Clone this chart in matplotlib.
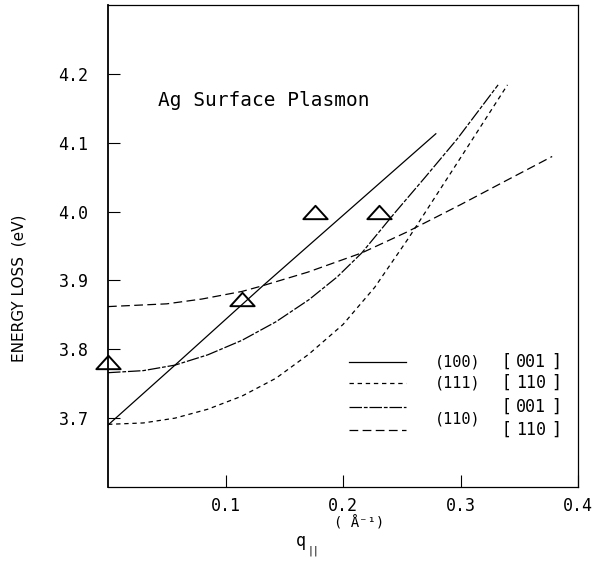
import matplotlib
matplotlib.use("Agg")
import matplotlib.pyplot as plt
from matplotlib.path import Path

# ---- data ----
q_100_001 = [0.0, 0.057, 0.131, 0.279]
e_100_001 = [3.690, 3.777, 3.891, 4.113]

q_111_110 = [0.0, 0.03, 0.057, 0.085, 0.114, 0.143, 0.171, 0.2, 0.227, 0.256, 0.30, 0.34]
e_111_110 = [3.691, 3.693, 3.700, 3.713, 3.732, 3.758, 3.793, 3.836, 3.890, 3.962, 4.078, 4.184]

q_110_001 = [0.0, 0.03, 0.057, 0.085, 0.114, 0.143, 0.171, 0.195, 0.216, 0.244, 0.27, 0.297, 0.332]
e_110_001 = [3.766, 3.769, 3.777, 3.792, 3.813, 3.840, 3.872, 3.905, 3.940, 3.998, 4.050, 4.105, 4.184]

q_110_110 = [0.0, 0.05, 0.08, 0.114, 0.131, 0.17, 0.216, 0.254, 0.30, 0.34, 0.378]
e_110_110 = [3.862, 3.866, 3.873, 3.884, 3.892, 3.912, 3.940, 3.970, 4.010, 4.046, 4.080]

q_exp = [0.0, 0.114, 0.176, 0.231]
e_exp = [3.782, 3.873, 4.000, 4.000]

xticks = [0.1, 0.2, 0.3, 0.4]
xtick_labels = ["0.1", "0.2", "0.3", "0.4"]
yticks = [3.7, 3.8, 3.9, 4.0, 4.1, 4.2]
ytick_labels = ["3.7", "3.8", "3.9", "4.0", "4.1", "4.2"]

legend_planes = ["(100)", "(111)", "(110)"]
legend_dirs = ["001", "110", "001", "110"]

# ---- figure ----
W, H = 597, 562
fig = plt.figure(figsize=(W / 100, H / 100), dpi=100)
ax = fig.add_axes([108 / W, 1 - 487 / H, (578 - 108) / W, (487 - 5) / H])
ax.set_xlim(0.0, 0.4)
ax.set_ylim(3.6, 4.3)

mono = "DejaVu Sans Mono"
lw = 0.9
st_solid = "-"
st_short = (0, (3.5, 3.0))
st_longshort = (0, (10, 1.5, 3, 1.5))
st_long = (0, (7, 3.5))

ax.plot(q_100_001, e_100_001, color="black", lw=lw, ls=st_solid)
ax.plot(q_111_110, e_111_110, color="black", lw=lw, ls=st_short)
ax.plot(q_110_001, e_110_001, color="black", lw=lw, ls=st_longshort)
ax.plot(q_110_110, e_110_110, color="black", lw=lw, ls=st_long)

tri = Path([(-1, -0.55), (1, -0.55), (0, 0.55), (-1, -0.55)],
           [Path.MOVETO, Path.LINETO, Path.LINETO, Path.CLOSEPOLY])
ax.plot(q_exp, e_exp, ls="none", marker=tri, markersize=17.5,
        markerfacecolor="none", markeredgecolor="black", markeredgewidth=1.4,
        clip_on=False, zorder=5)

ax.set_xticks(xticks)
ax.set_xticklabels(xtick_labels, family=mono, fontsize=12)
ax.set_yticks(yticks)
ax.set_yticklabels(ytick_labels, family=mono, fontsize=12)
ax.tick_params(direction="in", length=8.5, width=0.8, color="black")
ax.tick_params(axis="y", pad=14)
ax.tick_params(axis="x", pad=7)
for s in ax.spines.values():
    s.set_linewidth(0.9)
ax.spines["left"].set_linewidth(1.3)

fig.text(19 / W, 1 - 288 / H, "ENERGY LOSS  (eV)", family="DejaVu Sans", fontsize=11,
         rotation=90, ha="center", va="center")

# x label pieces
fig.text(301 / W, 1 - 541 / H, "q", family=mono, fontsize=12, ha="center", va="center")
fig.text(313 / W, 1 - 551 / H, "||", family=mono, fontsize=7, ha="center", va="center")
fig.text(359 / W, 1 - 523 / H, "( Å\u207b\u00b9)", family=mono, fontsize=10, ha="center", va="center")

fig.text(158 / W, 1 - 100 / H, "Ag Surface Plasmon", family=mono, fontsize=14,
         ha="left", va="center")

# legend (drawn by hand to mimic the original)
def lx(px):
    return px / W

def ly(py):
    return 1 - py / H

rows = [362, 383, 407, 430]
styles = [st_solid, st_short, st_longshort, st_long]
for r, st in zip(rows, styles):
    fig.add_artist(plt.Line2D([lx(349), lx(406)], [ly(r), ly(r)], color="black",
                              lw=lw, ls=st, transform=fig.transFigure))

fs = 11
for yy, lab in zip([362, 383, 419], legend_planes):
    fig.text(lx(458), ly(yy), lab, family=mono, fontsize=fs, ha="center", va="center")
for r, lab in zip(rows, legend_dirs):
    fig.text(lx(531), ly(r), lab, family=mono, fontsize=fs + 1, ha="center", va="center")
    fig.text(lx(507), ly(r), "[", family="DejaVu Sans", fontsize=12.5, ha="center",
             va="center")
    fig.text(lx(556), ly(r), "]", family="DejaVu Sans", fontsize=12.5, ha="center",
             va="center")

fig.savefig("out.png", dpi=100)
